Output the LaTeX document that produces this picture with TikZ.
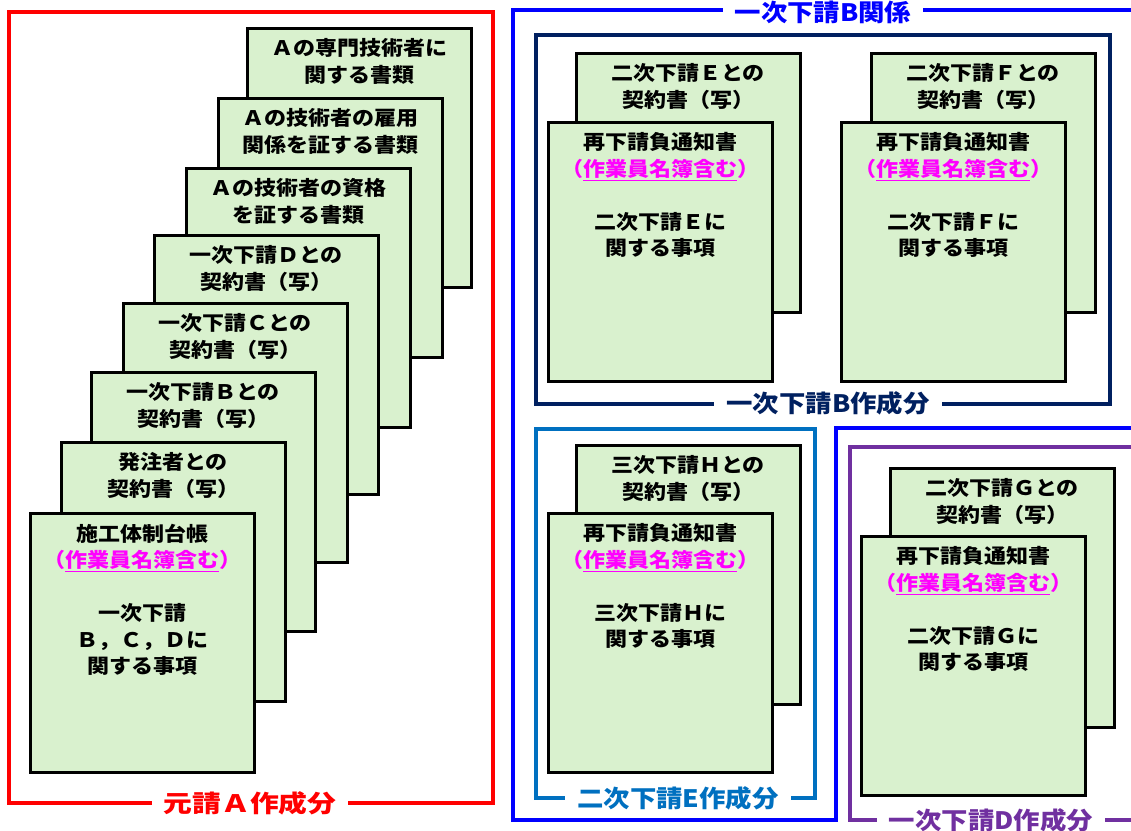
\documentclass[tikz,border=0pt]{standalone}
\usepackage{fontspec}
\newfontfamily\ptfont[FakeStretch=1.1]{Noto Sans CJK JP}
\newfontfamily\lbfont[FakeStretch=1.1]{Noto Sans CJK JP}
\newfontfamily\lbwidefont[FakeStretch=1.2]{Noto Sans CJK JP}
\definecolor{paperfill}{RGB}{217,241,206}
\definecolor{frRed}{RGB}{255,0,0}
\definecolor{frBlue}{RGB}{0,0,255}
\definecolor{frNavy}{RGB}{0,32,96}
\definecolor{frLight}{RGB}{0,112,192}
\definecolor{frPurple}{RGB}{112,48,160}
\definecolor{mag}{RGB}{255,0,255}
\newcommand\paperdoc[4]{%
  \node[paper] (#1) at (#2,#3) {};
  \node[ptext] (#1t) at ([yshift=-10.5pt]#1.north) {#4};
}
\newcommand\meibo{{\color{mag}（\underline{作業員名簿含む}）}}
\begin{document}
\begin{tikzpicture}[x=1pt,y=-1pt,
 paper/.style={draw=black,line width=3pt,fill=paperfill,anchor=north west,
   minimum width=224pt,minimum height=259pt,inner sep=0pt,outer sep=0pt},
 ptext/.style={anchor=north,align=center,inner sep=0pt,text=black,
   font=\ptfont\bfseries\fontsize{20}{26.5}\selectfont},
 frame/.style={line width=4pt},
 flabel/.style={fill=white,inner xsep=12pt,inner ysep=0pt,
   font=\lbfont\bfseries\fontsize{24}{28}\selectfont}]
\useasboundingbox (0,0) rectangle (1131,830);
\clip (0,0) rectangle (1131,830);
\fill[white] (0,0) rectangle (1131,830);

% frames
\draw[frame,line width=4.5pt,draw=frRed] (9,12) rectangle (493,803);
\draw[frame,draw=frBlue] (1145,10) -- (513,10) -- (513,820) -- (836,820) -- (836,428) -- (1145,428);
\draw[frame,draw=frNavy] (536,35) rectangle (1110,404);
\draw[frame,draw=frLight] (536,429) rectangle (815,798);
\draw[frame,draw=frPurple] (1145,447) -- (850,447) -- (850,820) -- (1145,820);

% left stack (back to front)
\paperdoc{pa}{247}{28}{Ａの専門技術者に\\関する書類}
\paperdoc{pb}{218}{98}{Ａの技術者の雇用\\関係を証する書類}
\paperdoc{pc}{186}{168}{Ａの技術者の資格\\を証する書類}
\paperdoc{pd}{154}{235}{一次下請Ｄとの\\契約書（写）}
\paperdoc{pe}{123}{303}{一次下請Ｃとの\\契約書（写）}
\paperdoc{pf}{91}{372}{一次下請Ｂとの\\契約書（写）}
\paperdoc{pg}{61}{442}{発注者との\\契約書（写）}
\paperdoc{ph}{30}{513}{施工体制台帳\\\meibo\\[26.5pt]一次下請\\Ｂ，Ｃ，Ｄに\\関する事項}

% E
\paperdoc{eb}{576}{53}{二次下請Ｅとの\\契約書（写）}
\paperdoc{ef}{548}{122}{再下請負通知書\\\meibo\\[26.5pt]二次下請Ｅに\\関する事項}
% F
\paperdoc{fb}{871}{53}{二次下請Ｆとの\\契約書（写）}
\paperdoc{ff}{841}{122}{再下請負通知書\\\meibo\\[26.5pt]二次下請Ｆに\\関する事項}
% H
\paperdoc{hb}{576}{445}{三次下請Ｈとの\\契約書（写）}
\paperdoc{hf}{548}{513}{再下請負通知書\\\meibo\\[26.5pt]三次下請Ｈに\\関する事項}
% G
\paperdoc{gb}{890}{468}{二次下請Ｇとの\\契約書（写）}
\paperdoc{gf}{861}{536}{再下請負通知書\\\meibo\\[26.5pt]二次下請Ｇに\\関する事項}

% frame labels
\node[flabel,text=frRed,font=\lbwidefont\bfseries\fontsize{24}{28}\selectfont] (lA) at (250,803) {元請Ａ作成分};
\node[flabel,text=frBlue] (lB) at (823,12) {一次下請B関係};
\node[flabel,text=frNavy] (lBs) at (828,403) {一次下請B作成分};
\node[flabel,text=frLight] (lE) at (678,798) {二次下請E作成分};
\node[flabel,text=frPurple] (lD) at (991,820) {一次下請D作成分};
\end{tikzpicture}
\end{document}
